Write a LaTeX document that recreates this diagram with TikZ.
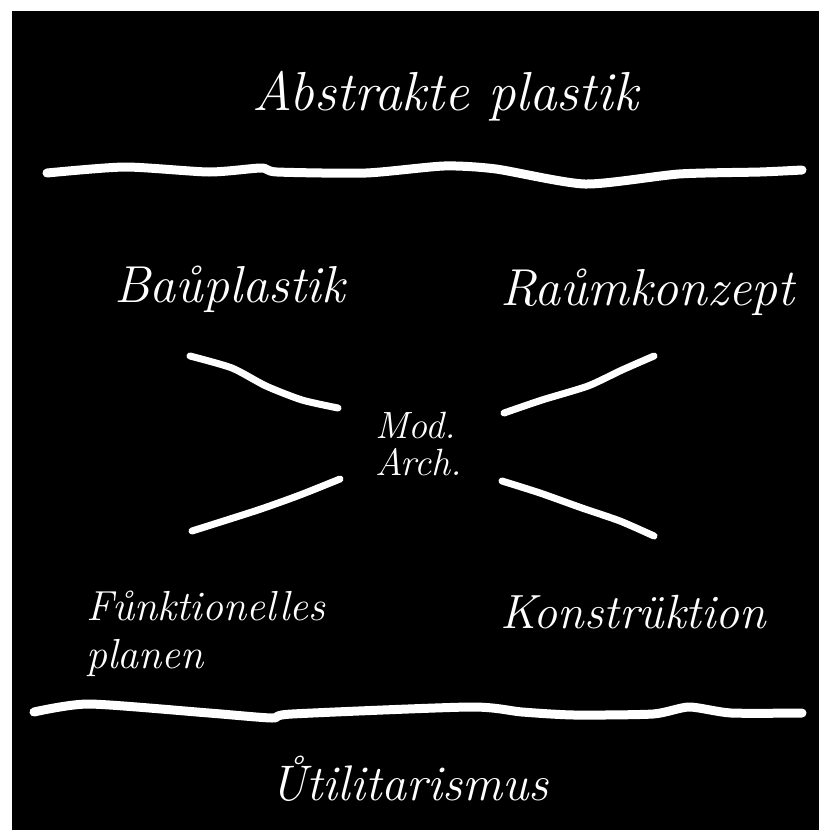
\documentclass[tikz,border=0pt]{standalone}
\usepackage{fontspec}
\usepackage{tikz}
\usetikzlibrary{positioning}
\definecolor{board}{HTML}{000000}
\definecolor{chalk}{HTML}{FFFFFF}
\tikzset{
  hand/.style    = {text=chalk, inner sep=0pt, anchor=base west,
                    font=\fontsize{50}{54}\selectfont\itshape},
  handsm/.style  = {hand, font=\fontsize{38}{37}\selectfont\itshape, align=left},
  bar/.style     = {draw=chalk, line width=9pt, line cap=round, line join=round},
  slash/.style   = {bar, line width=7pt},
}

\begin{document}
\begin{tikzpicture}[x=1pt, y=-1pt]
  \useasboundingbox (0,0) rectangle (819,830);
  \fill[white] (0,0) rectangle (819,830);
  \fill[board] (12,11) rectangle (819,830);

  % top
  \node[hand, font=\fontsize{55}{60}\selectfont\itshape] (abs) at (252,110) {Abstrakte plastik};
  \draw[bar] plot[smooth, tension=0.4] coordinates {(47,173) (125,167) (209,172) (261,168) (277,172)
    (366,173) (444,166) (496,169) (585,184) (679,174) (760,172) (802,170)};

  % four corners
  \node[hand, font=\fontsize{52}{56}\selectfont\itshape] (bau) at (114,302) {Baůplastik};
  \node[hand, font=\fontsize{52}{56}\selectfont\itshape] (raum) at (500,305) {Raůmkonzept};
  \node[hand, font=\fontsize{42}{46}\selectfont\itshape] (funk) at (86,620) {Fůnktionelles};
  \node[hand, font=\fontsize{42}{46}\selectfont\itshape] (plan) at (86,668) {planen};
  \node[hand, font=\fontsize{48}{52}\selectfont\itshape] (kons) at (500,628) {Konstrüktion};

  % centre
  \node[handsm] (arch) at (375,475) {Mod.\\Arch.};
  \draw[slash] plot[smooth, tension=0.4] coordinates {(190,356) (232,368) (266,386) (302,400) (338,408)};
  \draw[slash] plot[smooth, tension=0.4] coordinates {(504,413) (542,400) (588,386) (622,370) (654,356)};
  \draw[slash] plot[smooth, tension=0.4] coordinates {(340,479) (300,495) (258,510) (192,531)};
  \draw[slash] plot[smooth, tension=0.4] coordinates {(502,481) (540,493) (582,508) (620,521) (654,536)};

  % bottom
  \draw[bar] plot[smooth, tension=0.4] coordinates {(34,712) (89,704) (209,713) (272,718) (292,714)
    (470,707) (522,712) (574,715) (653,714) (689,707) (731,713) (802,713)};
  \node[hand] (util) at (270,800) {Ůtilitarismus};
\end{tikzpicture}
\end{document}
